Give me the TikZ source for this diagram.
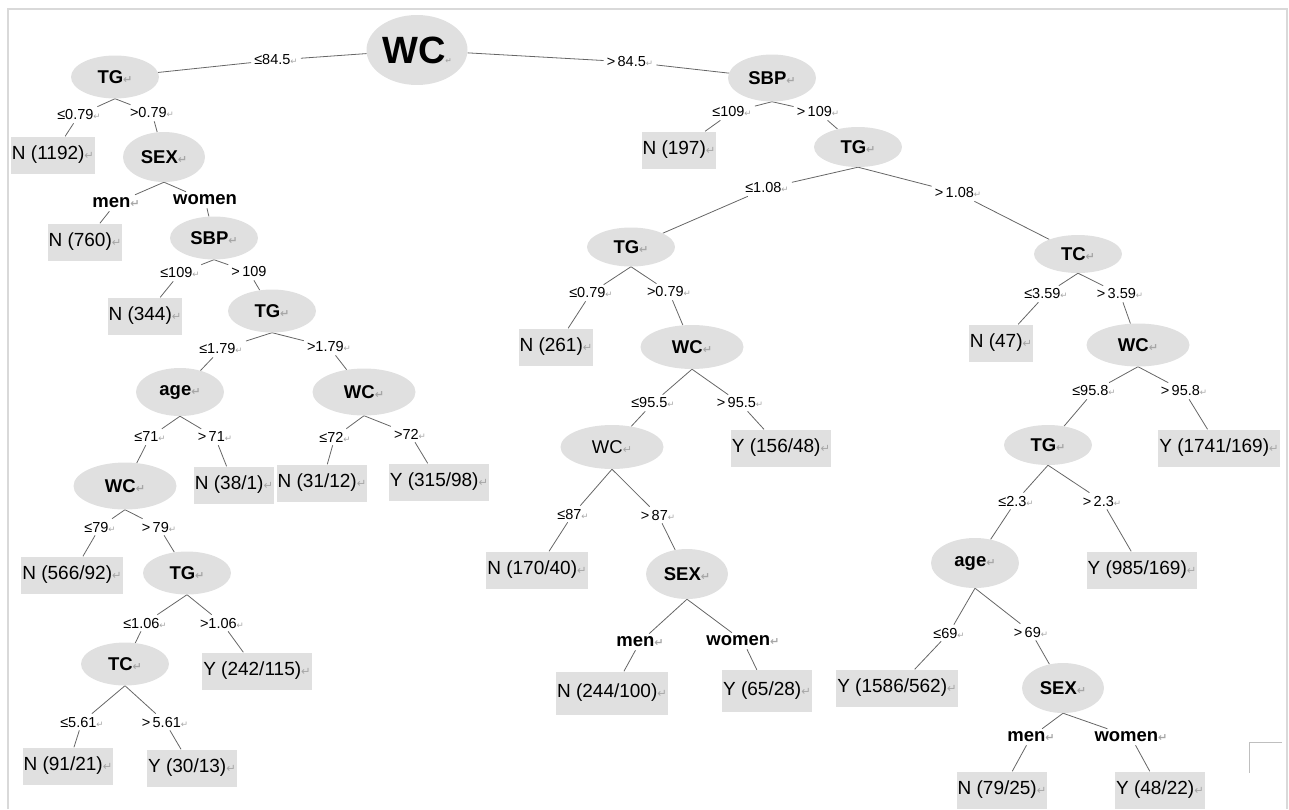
\documentclass[tikz,border=0pt]{standalone}
\usepackage{fontspec}
\setmainfont{Liberation Sans}
\newfontfamily\markfont{DejaVu Sans}
\usepackage{tikz}
\usetikzlibrary{shapes.geometric,backgrounds}
\newcommand{\parmark}[1][0.6]{\textcolor{gray!70}{\scalebox{#1}{\markfont ↵}}}
\tikzstyle{tree}=[
  x=1pt,y=-1pt
]
\tikzstyle{splitnode}=[
  ellipse,fill=black!12,inner sep=0pt,minimum width=88pt,minimum height=43pt,
  font=\fontsize{18.5}{20}\selectfont\bfseries
]
\tikzstyle{widenode}=[
  minimum width=103pt,minimum height=47pt
]
\tikzstyle{sexnode}=[
  minimum width=82pt,minimum height=50pt
]
\tikzstyle{leaf}=[
  fill=black!12,inner xsep=1pt,inner ysep=0pt,minimum height=37pt,
  font=\fontsize{19}{21}\selectfont
]
\tikzstyle{cond}=[
  inner sep=3pt,font=\fontsize{14.5}{16}\selectfont
]
\tikzstyle{sexcond}=[
  inner sep=3pt,font=\fontsize{18.5}{20}\selectfont\bfseries
]
\tikzstyle{branch}=[
  draw=black!60,line width=0.8pt
]
\tikzstyle{pageframe}=[
  draw=black!15,line width=1.2pt
]
\begin{document}
\begin{tikzpicture}[tree]
  \useasboundingbox (0,0) rectangle (1289,809);
  \draw [pageframe] (8,809) -- (8,9) -- (1287,9) -- (1287,809);
  \draw [draw=black!25,line width=0.8pt] (1282,742) -- (1249,742) -- (1249,773);

  % root
  \node (wc0) at (417,50) [splitnode,minimum width=101pt,minimum height=70pt,font=\fontsize{38}{40}\selectfont\bfseries] {WC\parmark[0.2]};
  \node (wc0l) at (276,60) [cond] {≤84.5\parmark};
  \node (wc0r) at (630,62) [cond] {>\,84.5\parmark};

  % left subtree
  \node (tg1) at (115,77) [splitnode] {TG\parmark};
  \node (tg1l) at (79,115) [cond] {≤0.79\parmark};
  \node (tg1r) at (152,113) [cond] {>0.79\parmark};
  \node (n1192) at (53,155) [leaf] {N (1192)\parmark};
  \node (sex1) at (164,157) [splitnode,sexnode] {SEX\parmark};
  \node (sex1l) at (116,203) [sexcond] {men\parmark};
  \node (sex1r) at (205,200) [sexcond] {women};
  \node (n760) at (85,242) [leaf] {N (760)\parmark};
  \node (sbp1) at (214,238) [splitnode] {SBP\parmark};
  \node (sbp1l) at (180,273) [cond] {≤109\parmark};
  \node (sbp1r) at (249,272) [cond] {>\,109};
  \node (n344) at (145,316) [leaf] {N (344)\parmark};
  \node (tg2) at (272,311) [splitnode] {TG\parmark};
  \node (tg2l) at (221,349) [cond] {≤1.79\parmark};
  \node (tg2r) at (329,347) [cond] {>1.79\parmark};
  \node (age1) at (180,392) [splitnode,minimum height=48pt] {age\parmark};
  \node (wc2) at (364,392) [splitnode,widenode] {WC\parmark};
  \node (age1l) at (150,437) [cond] {≤71\parmark};
  \node (age1r) at (215,437) [cond] {>\,71\parmark};
  \node (wc2l) at (335,437) [cond] {≤72\parmark};
  \node (wc2r) at (410,434) [cond] {>72\parmark};
  \node (wc3) at (125,486) [splitnode,widenode] {WC\parmark};
  \node (n38) at (234,485) [leaf] {N (38/1)\parmark};
  \node (n31) at (322,483) [leaf] {N (31/12)\parmark};
  \node (y315) at (439,482) [leaf] {Y (315/98)\parmark};
  \node (wc3l) at (100,527) [cond] {≤79\parmark};
  \node (wc3r) at (159,527) [cond] {>\,79\parmark};
  \node (n566) at (72,575) [leaf] {N (566/92)\parmark};
  \node (tg3) at (187,573) [splitnode] {TG\parmark};
  \node (tg3l) at (145,623) [cond] {≤1.06\parmark};
  \node (tg3r) at (222,623) [cond] {>1.06\parmark};
  \node (tc1) at (125,664) [splitnode] {TC\parmark};
  \node (y242) at (257,671) [leaf] {Y (242/115)\parmark};
  \node (tc1l) at (82,722) [cond] {≤5.61\parmark};
  \node (tc1r) at (165,722) [cond] {>\,5.61\parmark};
  \node (n91) at (68,766) [leaf] {N (91/21)\parmark};
  \node (y30) at (192,768) [leaf] {Y (30/13)\parmark};

  % right subtree
  \node (sbp2) at (772,78) [splitnode,minimum height=47pt] {SBP\parmark};
  \node (sbp2l) at (732,112) [cond] {≤109\parmark};
  \node (sbp2r) at (818,112) [cond] {>\,109\parmark};
  \node (n197) at (679,150) [leaf] {N (197)\parmark};
  \node (tg4) at (858,147) [splitnode,minimum height=40pt] {TG\parmark};
  \node (tg4l) at (767,188) [cond] {≤1.08\parmark};
  \node (tg4r) at (958,193) [cond] {>\,1.08\parmark};
  \node (tg5) at (631,247) [splitnode,minimum height=39pt] {TG\parmark};
  \node (tg5l) at (591,293) [cond] {≤0.79\parmark};
  \node (tg5r) at (669,292) [cond] {>0.79\parmark};
  \node (n261) at (556,347) [leaf] {N (261)\parmark};
  \node (wc4) at (692,347) [splitnode,widenode,minimum height=44pt] {WC\parmark};
  \node (wc4l) at (653,403) [cond] {≤95.5\parmark};
  \node (wc4r) at (740,403) [cond] {>\,95.5\parmark};
  \node (wc5) at (612,447) [splitnode,widenode,minimum height=44pt,font=\fontsize{18.5}{20}\selectfont] {WC\parmark};
  \node (y156) at (781,448) [leaf] {Y (156/48)\parmark};
  \node (wc5l) at (573,514) [cond] {≤87\parmark};
  \node (wc5r) at (658,515) [cond] {>\,87\parmark};
  \node (n170) at (537,570) [leaf] {N (170/40)\parmark};
  \node (sex2) at (687,574) [splitnode,sexnode] {SEX\parmark};
  \node (sex2l) at (640,642) [sexcond] {men\parmark};
  \node (sex2r) at (743,641) [sexcond] {women\parmark};
  \node (n244) at (612,693) [leaf,minimum height=43pt] {N (244/100)\parmark};
  \node (y65) at (767,691) [leaf,minimum height=42pt] {Y (65/28)\parmark};
  \node (tc2) at (1078,254) [splitnode,minimum height=38pt] {TC\parmark};
  \node (tc2l) at (1046,294) [cond] {≤3.59\parmark};
  \node (tc2r) at (1120,294) [cond] {>\,3.59\parmark};
  \node (n47) at (1001,343) [leaf] {N (47)\parmark};
  \node (wc6) at (1138,345) [splitnode,widenode,minimum height=43pt] {WC\parmark};
  \node (wc6l) at (1094,391) [cond] {≤95.8\parmark};
  \node (wc6r) at (1184,391) [cond] {>\,95.8\parmark};
  \node (tg6) at (1048,445) [splitnode,minimum height=40pt] {TG\parmark};
  \node (y1741) at (1219,448) [leaf] {Y (1741/169)\parmark};
  \node (tg6l) at (1016,501) [cond] {≤2.3\parmark};
  \node (tg6r) at (1102,501) [cond] {>\,2.3\parmark};
  \node (age2) at (975,563) [splitnode,minimum height=50pt] {age\parmark};
  \node (y985) at (1142,570) [leaf] {Y (985/169)\parmark};
  \node (age2l) at (949,633) [cond] {≤69\parmark};
  \node (age2r) at (1031,632) [cond] {>\,69\parmark};
  \node (y1586) at (897,688) [leaf] {Y (1586/562)\parmark};
  \node (sex3) at (1063,688) [splitnode,sexnode] {SEX\parmark};
  \node (sex3l) at (1031,737) [sexcond] {men\parmark};
  \node (sex3r) at (1131,737) [sexcond] {women\parmark};
  \node (n79) at (1002,790) [leaf] {N (79/25)\parmark};
  \node (y48) at (1160,790) [leaf] {Y (48/22)\parmark};

  \begin{scope}[on background layer]
    \draw [branch] (wc0) -- (wc0l) -- (tg1);
    \draw [branch] (wc0) -- (wc0r) -- (sbp2);
    \draw [branch] (tg1.south) -- (tg1l) -- (n1192);
    \draw [branch] (tg1.south) -- (tg1r) -- (sex1);
    \draw [branch] (sex1.south) -- (sex1l) -- (n760);
    \draw [branch] (sex1.south) -- (sex1r) -- (sbp1);
    \draw [branch] (sbp1.south) -- (sbp1l) -- (n344);
    \draw [branch] (sbp1.south) -- (sbp1r) -- (tg2);
    \draw [branch] (tg2.south) -- (tg2l) -- (age1);
    \draw [branch] (tg2.south) -- (tg2r) -- (wc2);
    \draw [branch] (age1.south) -- (age1l) -- (wc3);
    \draw [branch] (age1.south) -- (age1r) -- (n38);
    \draw [branch] (wc2.south) -- (wc2l) -- (n31);
    \draw [branch] (wc2.south) -- (wc2r) -- (y315);
    \draw [branch] (wc3.south) -- (wc3l) -- (n566);
    \draw [branch] (wc3.south) -- (wc3r) -- (tg3);
    \draw [branch] (tg3.south) -- (tg3l) -- (tc1);
    \draw [branch] (tg3.south) -- (tg3r) -- (y242);
    \draw [branch] (tc1.south) -- (tc1l) -- (n91);
    \draw [branch] (tc1.south) -- (tc1r) -- (y30);
    \draw [branch] (sbp2.south) -- (sbp2l) -- (n197);
    \draw [branch] (sbp2.south) -- (sbp2r) -- (tg4);
    \draw [branch] (tg4.south) -- (tg4l) -- (tg5);
    \draw [branch] (tg4.south) -- (tg4r) -- (tc2);
    \draw [branch] (tg5.south) -- (tg5l) -- (n261);
    \draw [branch] (tg5.south) -- (tg5r) -- (wc4);
    \draw [branch] (wc4.south) -- (wc4l) -- (wc5);
    \draw [branch] (wc4.south) -- (wc4r) -- (y156);
    \draw [branch] (wc5.south) -- (wc5l) -- (n170);
    \draw [branch] (wc5.south) -- (wc5r) -- (sex2);
    \draw [branch] (sex2.south) -- (sex2l) -- (n244);
    \draw [branch] (sex2.south) -- (sex2r) -- (y65);
    \draw [branch] (tc2.south) -- (tc2l) -- (n47);
    \draw [branch] (tc2.south) -- (tc2r) -- (wc6);
    \draw [branch] (wc6.south) -- (wc6l) -- (tg6);
    \draw [branch] (wc6.south) -- (wc6r) -- (y1741);
    \draw [branch] (tg6.south) -- (tg6l) -- (age2);
    \draw [branch] (tg6.south) -- (tg6r) -- (y985);
    \draw [branch] (age2.south) -- (age2l) -- (y1586);
    \draw [branch] (age2.south) -- (age2r) -- (sex3);
    \draw [branch] (sex3.south) -- (sex3l) -- (n79);
    \draw [branch] (sex3.south) -- (sex3r) -- (y48);
  \end{scope}
\end{tikzpicture}
\end{document}
